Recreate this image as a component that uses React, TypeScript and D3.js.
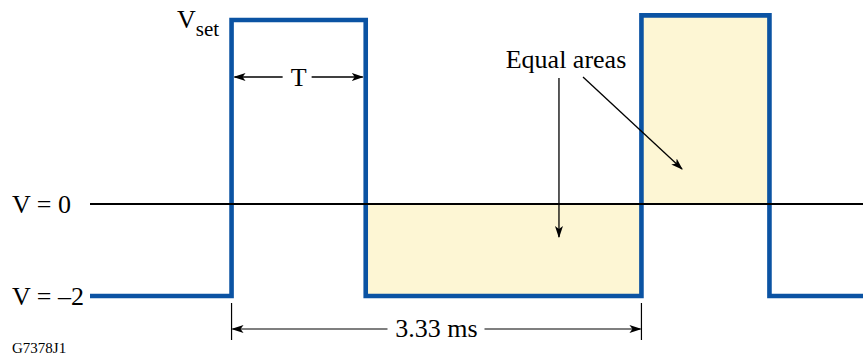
import React from "react";
import * as d3 from "d3";

// waveform corners: time in ms, voltage in V
const waveTimes = [-1.15, 0, 0, 1.09, 1.09, 3.33, 3.33, 4.37, 4.37, 5.13];
const waveVolts = [-2, -2, 4.0, 4.0, -2, -2, 4.1, 4.1, -2, -2];

// shaded "equal areas" blocks
const areaStart = [1.09, 3.33];
const areaEnd = [3.33, 4.37];
const areaLow = [-2, 0];
const areaHigh = [0, 4.1];

// reference levels
const levelValues = [0, -2];
const levelLabels = ["V = 0", "V = \u20132"];

const pulseWidth = 1.09;
const period = 3.33;
const periodLabel = "3.33 ms";

// arrow tips for the "Equal areas" note (t, v)
const noteTipT = [2.66, 3.66];
const noteTipV = [-0.72, 0.76];

const W = 863;
const H = 356;
const blue = "#0b53a3";
const fillColor = "#fdf6d4";
const font = "'Liberation Serif', 'Times New Roman', serif";

const App = () => {
  const x = d3.scaleLinear().domain([-1.15, 5.13]).range([90, 863]);
  const y = d3.scaleLinear().domain([-2, 0]).range([296, 204]);

  const wave = d3
    .line<number>()
    .x((_, i) => x(waveTimes[i]))
    .y((_, i) => y(waveVolts[i]));

  const tMid = (x(0) + x(pulseWidth)) / 2;
  const pMid = (x(0) + x(period)) / 2;
  const dimY = 329;

  return (
    <div style={{ position: "fixed", left: 0, top: 0 }}>
      <svg width={W} height={H} style={{ display: "block", background: "#fff" }}>
        <defs>
          <marker
            id="head"
            viewBox="0 0 12 10"
            refX="11"
            refY="5"
            markerWidth="12"
            markerHeight="10"
            markerUnits="userSpaceOnUse"
            orient="auto-start-reverse"
          >
            <path d="M0,1 L12,5 L0,9 L3,5 Z" fill="#000" />
          </marker>
        </defs>

        {/* shaded areas */}
        {areaStart.map((s, i) => (
          <rect
            key={i}
            x={x(s)}
            y={y(areaHigh[i])}
            width={x(areaEnd[i]) - x(s)}
            height={y(areaLow[i]) - y(areaHigh[i])}
            fill={fillColor}
          />
        ))}

        {/* waveform */}
        <path
          d={wave(waveTimes) || ""}
          fill="none"
          stroke={blue}
          strokeWidth={4.6}
          strokeLinejoin="miter"
        />

        {/* V = 0 baseline */}
        <line x1={x(-1.15)} x2={W} y1={y(0)} y2={y(0)} stroke="#000" strokeWidth={2} />

        {/* level labels */}
        {levelValues.map((v, i) => (
          <text key={i} x={12} y={y(v) + 9} fontFamily={font} fontSize={26} fill="#000">
            {levelLabels[i]}
          </text>
        ))}

        {/* V_set */}
        <text x={177} y={28} fontFamily={font} fontSize={26} fill="#000">
          V
          <tspan fontSize={21} dy={8}>
            set
          </tspan>
        </text>

        {/* T dimension */}
        <line x1={tMid - 16} x2={x(0) + 3} y1={77} y2={77} stroke="#000" strokeWidth={1.3} markerEnd="url(#head)" />
        <line x1={tMid + 13} x2={x(pulseWidth) - 3} y1={77} y2={77} stroke="#000" strokeWidth={1.3} markerEnd="url(#head)" />
        <text x={tMid} y={86} textAnchor="middle" fontFamily={font} fontSize={26} fill="#000">
          T
        </text>

        {/* period dimension */}
        {[0, period].map((t, i) => (
          <line key={i} x1={x(t)} x2={x(t)} y1={303} y2={340} stroke="#000" strokeWidth={1.2} />
        ))}
        <line x1={pMid - 49} x2={x(0) + 1} y1={dimY} y2={dimY} stroke="#000" strokeWidth={1.2} markerEnd="url(#head)" />
        <line x1={pMid + 48} x2={x(period) - 1} y1={dimY} y2={dimY} stroke="#000" strokeWidth={1.2} markerEnd="url(#head)" />
        <text x={pMid} y={337} textAnchor="middle" fontFamily={font} fontSize={26} fill="#000">
          {periodLabel}
        </text>

        {/* equal areas note */}
        <text x={566} y={68} textAnchor="middle" fontFamily={font} fontSize={26} fill="#000">
          Equal areas
        </text>
        <line x1={x(noteTipT[0])} x2={x(noteTipT[0])} y1={78} y2={y(noteTipV[0])} stroke="#000" strokeWidth={1.3} markerEnd="url(#head)" />
        <line x1={583} y1={77} x2={x(noteTipT[1])} y2={y(noteTipV[1])} stroke="#000" strokeWidth={1.3} markerEnd="url(#head)" />

        {/* figure code */}
        <text x={12} y={353} fontFamily={font} fontSize={15} fill="#000">
          G7378J1
        </text>
      </svg>
    </div>
  );
};

export default App;
